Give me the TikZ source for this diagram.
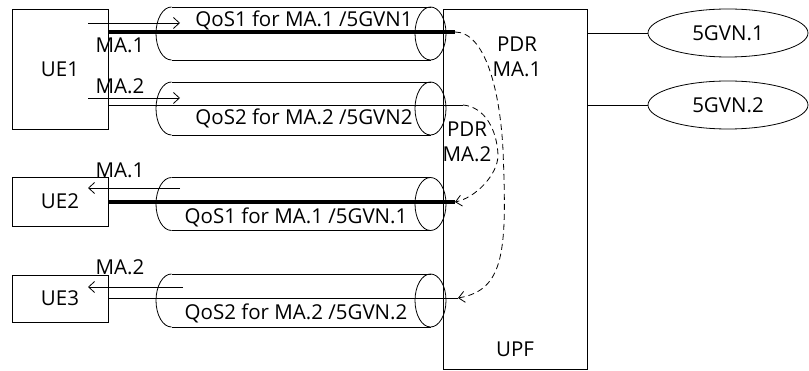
\documentclass[tikz,border=0pt]{standalone}
\usepackage{fontspec}
\setmainfont{Open Sans}
\usetikzlibrary{arrows.meta}
\usetikzlibrary{positioning, shapes.geometric}

\tikzset{
  wire/.style={line width=0.8pt},
  box/.style={draw, wire, inner sep=0pt},
  txt/.style={inner sep=0pt, font=\fontsize{20.5}{25}\selectfont, align=center},
  flow/.style={wire, -{Straight Barb[length=6pt,width=11pt]}},
  mcast/.style={line width=3.2pt},
  pdr/.style={wire, dash pattern=on 6pt off 4pt, -{Straight Barb[length=6pt,width=11pt]}},
}

% one QoS tunnel, lying on its side
\newcommand{\tube}[2]{%
  \coordinate (#1w) at (171.5,#2);
  \coordinate (#1e) at (430.5,#2);
  \draw[wire] ([yshift=26.5pt]#1w) -- ([yshift=26.5pt]#1e)
              ([yshift=-26.5pt]#1w) -- ([yshift=-26.5pt]#1e);
  \draw[wire] ([yshift=26.5pt]#1w) arc[start angle=90,end angle=270,x radius=15.5pt,y radius=26.5pt];
  \draw[wire] (#1e) ellipse[x radius=15.5pt,y radius=26.5pt];
}

\begin{document}
\begin{tikzpicture}[x=1pt,y=1pt]
    \useasboundingbox (0,0) rectangle (809,-371);

    % UEs, UPF and the 5G VNs
    \node[box, txt, minimum width=96pt, minimum height=120pt] (ue1) at (60,-69) {UE1};
    \node[box, txt, minimum width=96pt, minimum height=49pt] (ue2) at (60,-201.5) {UE2};
    \node[box, txt, minimum width=96pt, minimum height=47pt] (ue3) at (60,-298.5) {UE3};
    \node[box, minimum width=144pt, minimum height=360pt] (upf) at (515,-189) {};
    \node[txt, above=12pt of upf.south] (upflbl) {UPF};
    \node[box, txt, ellipse, minimum width=160pt, minimum height=48pt] (vn1) at (728,-33) {5GVN.1};
    \node[box, txt, ellipse, minimum width=160pt, minimum height=48pt] (vn2) at (728,-105) {5GVN.2};
    \draw[wire] (upf.east |- vn1.west) -- (vn1.west);
    \draw[wire] (upf.east |- vn2.west) -- (vn2.west);

    % tunnels
    \tube{t1}{-33.5}
    \tube{t2}{-108.5}
    \tube{t3}{-204}
    \tube{t4}{-300.5}
    \node[txt] (q1) at (304,-20) {QoS1 for MA.1 /5GVN1};
    \node[txt] (q2) at (304,-118) {QoS2 for MA.2 /5GVN2};
    \node[txt] (q3) at (296,-217) {QoS1 for MA.1 /5GVN.1};
    \node[txt] (q4) at (296,-313) {QoS2 for MA.2 /5GVN.2};

    % MA labels and flow arrows
    \node[txt] (ma1) at (120,-45) {MA.1};
    \node[txt] (ma2) at (120,-86) {MA.2};
    \node[txt] (ma3) at (120,-170) {MA.1};
    \node[txt] (ma4) at (120,-267) {MA.2};
    \coordinate (a1s) at (88,-23);   \coordinate (a1e) at (180,-23);
    \coordinate (a2s) at (88,-98);   \coordinate (a2e) at (180,-98);
    \coordinate (a3s) at (180,-188); \coordinate (a3e) at (88,-188);
    \coordinate (a4s) at (183,-287); \coordinate (a4e) at (88,-287);
    \draw[flow] (a1s) -- (a1e);
    \draw[flow] (a2s) -- (a2e);
    \draw[flow] (a3s) -- (a3e);
    \draw[flow] (a4s) -- (a4e);

    % user plane paths
    \coordinate (m1) at (455,-32);
    \coordinate (m2) at (463,-105);
    \coordinate (d1) at (455,-202);
    \coordinate (d2) at (458,-298);
    \draw[mcast] (ue1.east |- m1) -- (m1);
    \draw[wire] (ue1.east |- m2) -- (m2);
    \draw[mcast] (ue2.east |- d1) -- (d1);
    \draw[wire] (ue3.east |- d2) -- (d2);

    % PDR mapping
    \draw[pdr] (m1) .. controls (485,-32) and (500,-90) .. (503,-150)
        .. controls (507,-250) and (505,-290) .. (d2);
    \draw[pdr] (m2) .. controls (485,-107) and (497,-130) .. (498,-155)
        .. controls (498,-175) and (475,-198) .. (d1);
    \node[txt] (pdr1) at (517,-57) {PDR\\MA.1};
    \node[txt] (pdr2) at (467,-142) {PDR\\MA.2};
\end{tikzpicture}
\end{document}
